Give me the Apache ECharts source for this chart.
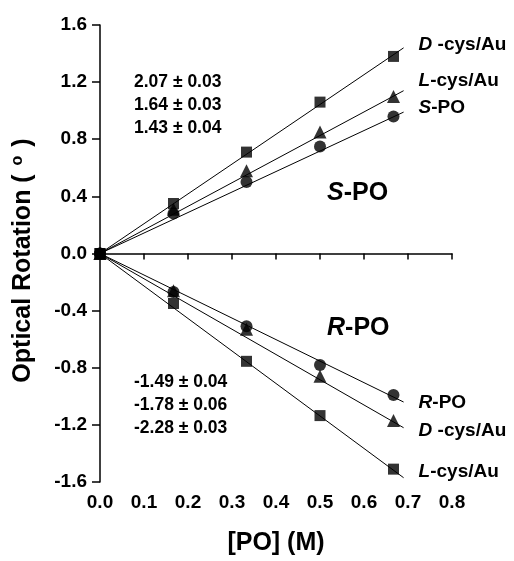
<!DOCTYPE html>
<html>
<head>
<meta charset="utf-8">
<script src="https://cdn.jsdelivr.net/npm/echarts@6/dist/echarts.min.js"></script>
<style>
  html, body { margin: 0; padding: 0; background: #fff; }
  #chart { width: 514px; height: 561px; }
</style>
</head>
<body>
<div id="chart"></div>
<script>
// [PO] concentrations (M)
const xConc = [0, 0.167, 0.333, 0.5, 0.667]
const xTicks = ['0.0', '0.1', '0.2', '0.3', '0.4', '0.5', '0.6', '0.7', '0.8']

// measured optical rotation (deg)
const dCysS = [0, 0.35, 0.71, 1.06, 1.38]
const lCysS = [0, 0.31, 0.58, 0.85, 1.10]
const sPO = [0, 0.28, 0.50, 0.75, 0.96]
const rPO = [0, -0.27, -0.51, -0.78, -0.99]
const dCysR = [0, -0.26, -0.53, -0.86, -1.17]
const lCysR = [0, -0.35, -0.755, -1.135, -1.51]

// linear fits: end of each drawn fit line
const fitEndX = 0.69
const fitEnd = [1.44, 1.14, 0.99, -1.04, -1.22, -1.57]

const slopesS = ['2.07 \u00b1 0.03', '1.64 \u00b1 0.03', '1.43 \u00b1 0.04']
const slopesR = ['-1.49 \u00b1 0.04', '-1.78 \u00b1 0.06', '-2.28 \u00b1 0.03']

const FONT = 'Liberation Sans, Arial, sans-serif'

const sets = [
  { data: dCysS, symbol: 'rect', size: 11, it: 'D', rest: ' -cys/Au', off: [0, -3] },
  { data: lCysS, symbol: 'triangle', size: 13, it: 'L', rest: '-cys/Au', off: [0, -10] },
  { data: sPO, symbol: 'circle', size: 12, it: 'S', rest: '-PO', off: [0, -4] },
  { data: rPO, symbol: 'circle', size: 12, it: 'R', rest: '-PO', off: [0, 1] },
  { data: dCysR, symbol: 'triangle', size: 13, it: 'D', rest: ' -cys/Au', off: [0, 3] },
  { data: lCysR, symbol: 'rect', size: 11, it: 'L', rest: '-cys/Au', off: [0, -6] }
]

const series = []
sets.forEach((s, i) => {
  series.push({
    type: 'line',
    data: [[0, 0], [fitEndX, fitEnd[i]]],
    showSymbol: false,
    silent: true,
    lineStyle: { color: '#000', width: 1 },
    endLabel: {
      show: true,
      distance: 15,
      offset: s.off,
      formatter: '{i|' + s.it + '}{n|' + s.rest + '}',
      rich: {
        i: { fontFamily: FONT, fontSize: 19, fontWeight: 'bold', fontStyle: 'italic', color: '#000' },
        n: { fontFamily: FONT, fontSize: 19, fontWeight: 'bold', color: '#000' }
      }
    },
    z: 2
  })
  series.push({
    type: 'scatter',
    data: xConc.map((x, j) => [x, s.data[j]]),
    symbol: s.symbol,
    symbolSize: s.size,
    itemStyle: { color: '#000' },
    z: 3
  })
})

const statText = (lines, top) => ({
  type: 'text',
  left: 134,
  top: top,
  style: {
    text: lines.join('\n'),
    font: 'bold 17.5px ' + FONT,
    lineHeight: 23,
    fill: '#000'
  }
})

const bigLabel = (it, top) => ({
  type: 'text',
  left: 327,
  top: top,
  style: {
    text: '{i|' + it + '}{n|-PO}',
    rich: {
      i: { font: 'italic bold 25px ' + FONT, fill: '#000' },
      n: { font: 'bold 25px ' + FONT, fill: '#000' }
    }
  }
})

const chart = echarts.init(document.getElementById('chart'))
chart.setOption({
  animation: false,
  backgroundColor: '#fff',
  grid: { left: 100, right: 62, top: 25, bottom: 73 },
  xAxis: {
    type: 'value',
    min: 0,
    max: 0.8,
    interval: 0.1,
    name: '[PO] (M)',
    nameLocation: 'middle',
    nameGap: 49,
    nameTextStyle: { fontFamily: FONT, fontSize: 25, fontWeight: 'bold', color: '#000' },
    axisLine: { lineStyle: { color: '#000', width: 1.5 } },
    axisTick: { length: 6, lineStyle: { color: '#000', width: 1.5 } },
    axisLabel: {
      margin: 11,
      fontFamily: FONT,
      fontSize: 19,
      fontWeight: 'bold',
      color: '#000',
      formatter: (v) => xTicks[Math.round(v * 10)]
    },
    splitLine: { show: false }
  },
  yAxis: {
    type: 'value',
    min: -1.6,
    max: 1.6,
    interval: 0.4,
    name: '{t|Optical Rotation ( }{s|o}{t| )}',
    nameLocation: 'middle',
    nameGap: 64,
    nameTextStyle: {
      padding: [0, 14, 0, 0],
      rich: {
        t: { fontFamily: FONT, fontSize: 25, fontWeight: 'bold', color: '#000' },
        s: { fontFamily: FONT, fontSize: 16, fontWeight: 'bold', color: '#000', verticalAlign: 'top', padding: [0, 2, 10, 2] }
      }
    },
    axisLine: { show: true, lineStyle: { color: '#000', width: 1.5 } },
    axisTick: { show: true, length: 8, lineStyle: { color: '#000', width: 1.5 } },
    axisLabel: {
      margin: 13,
      fontFamily: FONT,
      fontSize: 19,
      fontWeight: 'bold',
      color: '#000',
      formatter: (v) => v.toFixed(1)
    },
    splitLine: { show: false }
  },
  graphic: [
    statText(slopesS, 71),
    statText(slopesR, 371),
    bigLabel('S', 181),
    bigLabel('R', 316)
  ],
  series: series
})
</script>
</body>
</html>
